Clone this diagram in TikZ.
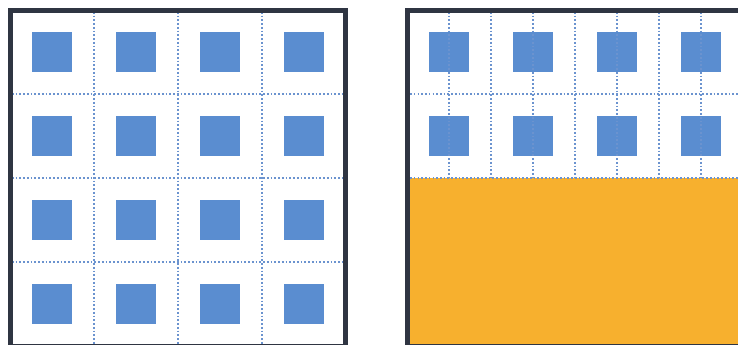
\documentclass[tikz,border=0pt]{standalone}
\usetikzlibrary{positioning}
\definecolor{frameDark}{HTML}{2F3542}
\definecolor{cellBlue}{HTML}{5A8DD0}
\definecolor{gridBlue}{HTML}{6B93CF}
\definecolor{zoneOrange}{HTML}{F7B02E}

\begin{document}
\begin{tikzpicture}[
            x=0.03cm, y=-0.03cm,
            panelframe/.style={draw=frameDark, line width=4.2pt},
            cellsq/.style={fill=cellBlue, draw=none, minimum size=1.2cm, inner sep=0pt},
            gridline/.style={draw=gridBlue, line width=1.35pt, dash pattern=on 1.4pt off 1.8pt},
            zone/.style={fill=zoneOrange, draw=none}
        ]
        \clip (0,0) rectangle (738,345);
        \fill[white] (0,0) rectangle (738,345);

        %---------------- Left panel ----------------%
        \foreach \k in {94,178,262} {
            \draw[gridline] (\k,12) -- (\k,344);
            \draw[gridline] (12,\k) -- (344,\k);
        }
        \foreach \i in {1,...,4}
            \foreach \j in {1,...,4}
                \node[cellsq] (L-\i-\j) at ({84*\i-32},{84*\j-32}) {};
        \draw[panelframe] (10.5,10.5) rectangle (345.5,346);

        %---------------- Right panel ----------------%
        \foreach \i in {1,...,4}
            \foreach \j in {1,2}
                \node[cellsq] (R-\i-\j) at ({365+84*\i},{84*\j-32}) {};
        \foreach \k in {0,...,6}
            \draw[gridline] ({449+42*\k},12) -- ({449+42*\k},178);
        \draw[gridline] (410,94) -- (738,94);

        % covered part
        \fill[zone] (410,178) rectangle (750,346);
        \draw[gridline] (410,178) -- (738,178);
        \draw[panelframe] (407.5,10.5) rectangle (760,346);
\end{tikzpicture}
\end{document}
